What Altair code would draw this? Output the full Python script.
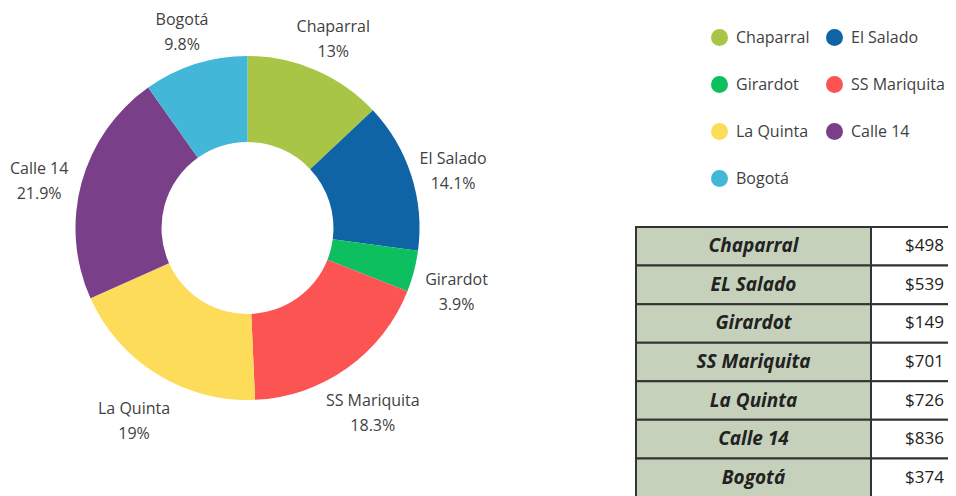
import altair as alt
import pandas as pd

# ---- data ----
names = ["Chaparral", "El Salado", "Girardot", "SS Mariquita", "La Quinta", "Calle 14", "Bogotá"]
shares = [13, 14.1, 3.9, 18.3, 19, 21.9, 9.8]
share_labels = ["13%", "14.1%", "3.9%", "18.3%", "19%", "21.9%", "9.8%"]
colors = ["#a8c545", "#0e64a5", "#0dbf5f", "#fc5353", "#fddc5a", "#7a3f89", "#43b7d7"]

table_names = ["Chaparral", "EL Salado", "Girardot", "SS Mariquita", "La Quinta", "Calle 14", "Bogotá"]
table_values = ["$498", "$539", "$149", "$701", "$726", "$836", "$374"]

df = pd.DataFrame({"name": names, "share": shares, "label": share_labels, "idx": list(range(len(names)))})
tdf = pd.DataFrame({"tname": table_names, "tval": table_values})

LABEL_FONT = "Open Sans"
TABLE_FONT = "Open Sans"
TEXT_COLOR = "#3f3f3f"
CX, CY = 239.5, 220

base = alt.Chart(df).encode(
    theta=alt.Theta("share:Q", stack=True),
    order=alt.Order("idx:Q"),
)

arc = base.mark_arc(outerRadius=172, innerRadius=86).encode(
    x=alt.value(CX),
    y=alt.value(CY),
    color=alt.Color(
        "name:N",
        sort=names,
        scale=alt.Scale(domain=names, range=colors),
        legend=alt.Legend(
            title=None,
            orient="none",
            direction="horizontal",
            legendX=703,
            legendY=21,
            columns=2,
            symbolType="circle",
            symbolSize=289,
            symbolStrokeWidth=0,
            symbolOpacity=1,
            labelFont=LABEL_FONT,
            labelFontSize=16,
            labelColor=TEXT_COLOR,
            labelOffset=8,
            labelLimit=200,
            rowPadding=30,
            columnPadding=16,
        ),
    ),
)

name_text = base.mark_text(radius=216, dy=-2.5, font=LABEL_FONT, fontSize=16, color=TEXT_COLOR).encode(
    x=alt.value(CX), y=alt.value(CY), text="name:N"
)
pct_text = base.mark_text(radius=216, dy=22.5, font=LABEL_FONT, fontSize=16, color=TEXT_COLOR).encode(
    x=alt.value(CX), y=alt.value(CY), text="label:N"
)

tbase = alt.Chart(tdf).encode(
    y=alt.Y(
        "tname:N",
        sort=table_names,
        scale=alt.Scale(range=[219, 489], paddingInner=0, paddingOuter=0),
        axis=None,
    )
)
xscale = alt.Scale(domain=[0, 1], range=[628, 863], nice=False, zero=False)

col1 = tbase.mark_rect(fill="#c5d1bb", stroke="#333333", strokeWidth=2, clip=True).encode(
    x=alt.X(datum=0, scale=xscale, axis=None),
    x2=alt.datum(1),
)
col2 = tbase.mark_rect(fill="#ffffff", stroke="#333333", strokeWidth=2, clip=True).encode(
    x=alt.X(datum=1, scale=xscale, axis=None),
    x2=alt.datum(2),
)
t1 = tbase.mark_text(
    font=TABLE_FONT, fontSize=19, fontStyle="italic", fontWeight="bold", color="#222222", clip=True
).encode(x=alt.X(datum=0.5, scale=xscale, axis=None), text="tname:N")
t2 = tbase.mark_text(
    font=TABLE_FONT, fontSize=17, color="#222222", align="left", dx=34
).encode(x=alt.X(datum=1, scale=xscale, axis=None), text="tval:N")

chart = alt.layer(arc, name_text, pct_text, col1, col2, t1, t2).properties(
    width=940,
    height=488,
    padding=0,
    autosize=alt.AutoSizeParams(type="none"),
    background="#ffffff",
).configure_view(stroke=None)

chart.save("out.html", embed_options={"renderer": "svg", "actions": False})
